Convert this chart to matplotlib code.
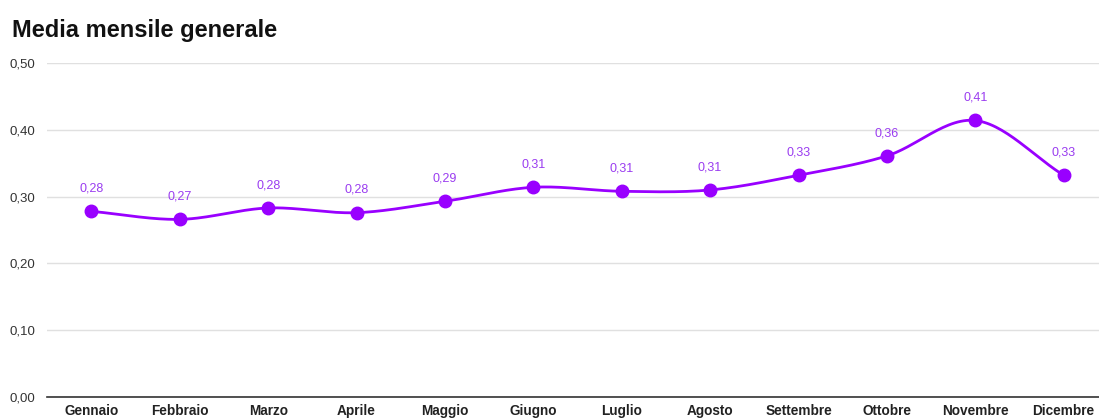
import numpy as np
import matplotlib
matplotlib.use("Agg")
import matplotlib.pyplot as plt

months = ["Gennaio", "Febbraio", "Marzo", "Aprile", "Maggio", "Giugno",
          "Luglio", "Agosto", "Settembre", "Ottobre", "Novembre", "Dicembre"]
values = [0.278, 0.266, 0.283, 0.276, 0.293, 0.314, 0.308, 0.310, 0.332, 0.361, 0.414, 0.332]
yticks = [0.0, 0.1, 0.2, 0.3, 0.4, 0.5]
title = "Media mensile generale"

plt.rcParams['font.family'] = ['Liberation Sans', 'DejaVu Sans']
color = "#9900ff"
label_color = "#9a3cf0"

fig = plt.figure(figsize=(10.99, 4.19), dpi=100)
ax = fig.add_axes([0.043, 0.0525, 0.957, 0.797])

x = np.arange(len(values))
y = np.array(values)

# Catmull-Rom smoothing of the line through the data points
def smooth(xp, yp, n=30):
    xs, ys = [], []
    N = len(xp)
    for i in range(N - 1):
        x0, x1 = xp[i], xp[i + 1]
        y0, y1 = yp[i], yp[i + 1]
        m0 = (yp[i + 1] - yp[i - 1]) / 2 if i > 0 else (y1 - y0)
        m1 = (yp[i + 2] - yp[i]) / 2 if i < N - 2 else (y1 - y0)
        t = np.linspace(0, 1, n, endpoint=False)
        h00 = 2 * t**3 - 3 * t**2 + 1
        h10 = t**3 - 2 * t**2 + t
        h01 = -2 * t**3 + 3 * t**2
        h11 = t**3 - t**2
        xs.append(x0 + t * (x1 - x0))
        ys.append(h00 * y0 + h10 * m0 + h01 * y1 + h11 * m1)
    xs.append([xp[-1]])
    ys.append([yp[-1]])
    return np.concatenate(xs), np.concatenate(ys)

sx, sy = smooth(x.astype(float), y)
ax.plot(sx, sy, color=color, lw=2, zorder=3)
ax.plot(x, y, 'o', color=color, ms=9, zorder=4)

for xi, yi in zip(x, y):
    ax.annotate(f"{yi:.2f}".replace(".", ","), (xi, yi), xytext=(0, 12),
                textcoords="offset points", ha="center", va="bottom",
                fontsize=9, color=label_color)

ax.set_xlim(-0.5, 11.4)
ax.set_ylim(0, 0.5)
ax.set_yticks(yticks)
ax.set_yticklabels([f"{v:.2f}".replace(".", ",") for v in yticks], fontsize=9.5,
                   color="#333333", ha="left")
ax.set_xticks(x)
ax.set_xticklabels(months, fontsize=9.8, fontweight="bold", color="#222222")
ax.tick_params(axis="both", length=0)
ax.tick_params(axis="y", pad=27)
ax.tick_params(axis="x", pad=5)
ax.grid(axis="y", color="#e0e0e0", lw=1)
ax.set_axisbelow(True)
for s in ["top", "right", "left"]:
    ax.spines[s].set_visible(False)
ax.spines["bottom"].set_color("#333333")
ax.spines["bottom"].set_linewidth(1.2)

fig.text(0.011, 0.928, title, fontsize=17, fontweight="bold", color="#111111", va="center")

fig.savefig("out.png", dpi=100)
